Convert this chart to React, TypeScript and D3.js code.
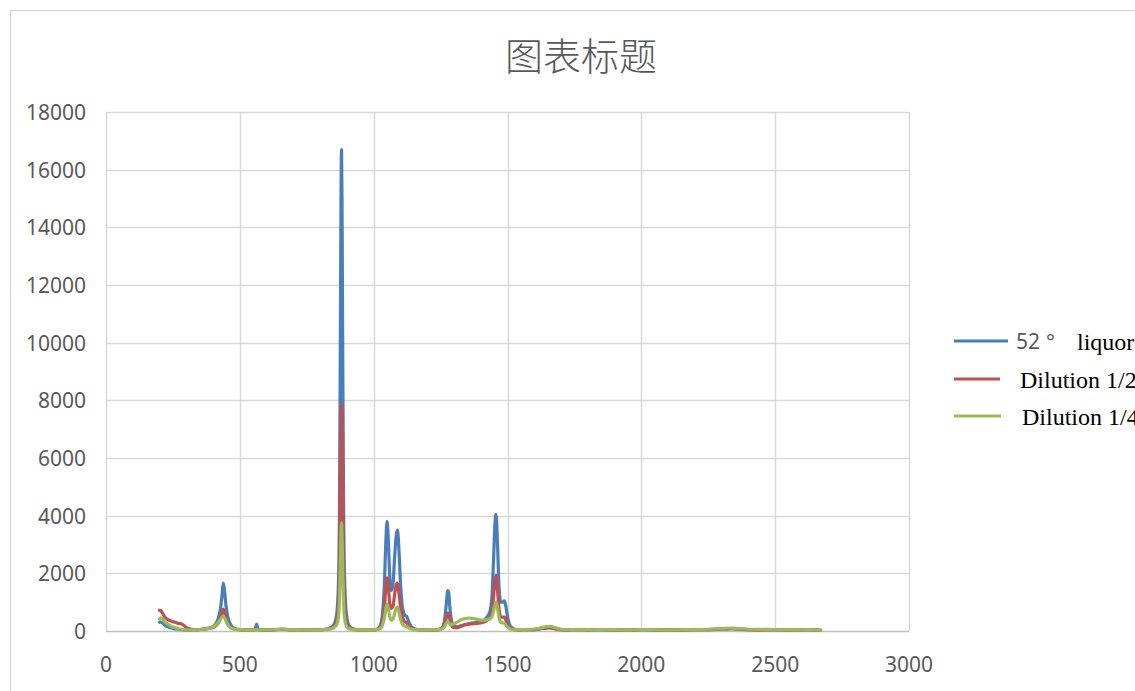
import React from "react";
import * as d3 from "d3";

// Raman shift (cm⁻¹) sample positions shared by all three spectra
const shifts = [
  200, 205, 210, 215, 220, 230, 240, 250, 260, 270, 280, 290, 300, 310, 320, 340, 360, 380, 400, 410,
  420, 428, 434, 438, 442, 448, 456, 466, 480, 500, 520, 540, 555, 560, 563, 566, 572, 600, 630, 660,
  690, 720, 750, 780, 810, 830, 845, 855, 862, 868, 872, 875, 878, 880, 882, 885, 888, 892, 898, 905,
  915, 930, 950, 980, 1000, 1015, 1025, 1033, 1040, 1045, 1050, 1055, 1060, 1066, 1072, 1078, 1084, 1089, 1094, 1100,
  1108, 1116, 1124, 1130, 1140, 1155, 1175, 1200, 1225, 1245, 1258, 1266, 1272, 1277, 1280, 1284, 1290, 1298, 1310, 1325,
  1340, 1355, 1370, 1385, 1400, 1415, 1425, 1435, 1442, 1448, 1453, 1457, 1462, 1468, 1475, 1482, 1488, 1493, 1500, 1510,
  1525, 1545, 1570, 1600, 1625, 1645, 1660, 1680, 1700, 1730, 1760, 1800, 1850, 1900, 1950, 2000, 2050, 2100, 2150, 2200,
  2250, 2290, 2320, 2340, 2360, 2400, 2450, 2500, 2550, 2600, 2640, 2670,
];

const liquor52 = [
  300, 310, 290, 250, 200, 150, 110, 90, 70, 60, 50, 40, 30, 30, 35, 40, 60, 90, 150, 250,
  450, 800, 1300, 1660, 1450, 900, 450, 220, 90, 50, 40, 35, 40, 150, 240, 120, 40, 30, 45, 60,
  40, 45, 35, 40, 50, 80, 150, 300, 600, 1500, 4000, 9000, 15000, 16700, 14500, 8500, 4000, 1600, 600, 250,
  110, 60, 40, 35, 40, 70, 200, 600, 1600, 3000, 3800, 3100, 1900, 1400, 1600, 2500, 3300, 3500, 2900, 1700,
  800, 550, 500, 350, 150, 70, 45, 40, 40, 60, 150, 450, 1000, 1400, 1350, 900, 400, 200, 150, 180,
  220, 250, 280, 300, 320, 400, 500, 700, 1200, 2500, 3700, 4050, 3200, 1600, 1000, 1000, 1050, 900, 500, 180,
  70, 40, 45, 50, 80, 100, 110, 70, 45, 40, 50, 40, 45, 35, 40, 45, 40, 35, 40, 45,
  50, 60, 70, 80, 65, 50, 45, 40, 40, 45, 40, 35,
];

const dilutionHalf = [
  720, 700, 640, 560, 480, 400, 360, 320, 300, 260, 250, 200, 120, 80, 60, 50, 60, 80, 120, 180,
  280, 450, 650, 760, 690, 450, 230, 120, 60, 45, 40, 40, 35, 45, 50, 45, 40, 40, 45, 60,
  45, 40, 40, 45, 50, 70, 110, 200, 350, 800, 2000, 4300, 7100, 7850, 6800, 4000, 1900, 800, 300, 140,
  80, 50, 40, 35, 40, 60, 120, 320, 800, 1450, 1840, 1500, 950, 780, 850, 1250, 1580, 1660, 1350, 850,
  450, 320, 280, 200, 100, 60, 40, 40, 40, 50, 100, 250, 480, 620, 600, 420, 220, 120, 110, 160,
  210, 240, 250, 260, 280, 320, 380, 450, 650, 1200, 1750, 1930, 1500, 800, 480, 480, 480, 400, 240, 100,
  50, 40, 45, 50, 90, 110, 120, 80, 50, 40, 45, 40, 50, 40, 35, 45, 40, 40, 35, 45,
  50, 65, 75, 85, 70, 50, 40, 45, 40, 40, 45, 35,
];

const dilutionQuarter = [
  420, 460, 430, 370, 320, 240, 180, 140, 110, 80, 60, 50, 40, 35, 40, 45, 60, 90, 140, 200,
  300, 420, 490, 520, 480, 350, 200, 110, 60, 45, 40, 40, 40, 40, 45, 40, 40, 35, 50, 65,
  45, 40, 40, 40, 50, 65, 90, 140, 220, 450, 1000, 2100, 3400, 3750, 3200, 1900, 900, 400, 170, 90,
  60, 45, 40, 35, 40, 55, 90, 200, 450, 750, 930, 780, 500, 380, 400, 600, 790, 830, 680, 420,
  230, 170, 150, 110, 70, 45, 40, 40, 45, 55, 90, 170, 280, 320, 300, 250, 220, 250, 300, 380,
  430, 450, 440, 410, 380, 380, 400, 430, 500, 700, 920, 1000, 820, 480, 300, 280, 270, 220, 140, 70,
  45, 45, 55, 70, 110, 150, 160, 110, 60, 45, 50, 45, 50, 45, 40, 45, 45, 40, 45, 50,
  60, 80, 95, 100, 85, 60, 55, 50, 50, 50, 45, 40,
];

const xTicks = [0, 500, 1000, 1500, 2000, 2500, 3000];
const yTicks = [0, 2000, 4000, 6000, 8000, 10000, 12000, 14000, 16000, 18000];

const seriesNames = ["liquor", "Dilution 1/2", "Dilution 1/4"];
const seriesColors = ["#4a7ebb", "#c0504d", "#9bbb59"];

const W = 1135;
const H = 691;
const plot = { left: 106, right: 909, top: 112, bottom: 631 };

export default function App() {
  const x = d3.scaleLinear().domain([0, 3000]).range([plot.left, plot.right]);
  const y = d3.scaleLinear().domain([0, 18000]).range([plot.bottom, plot.top]);
  const line = d3
    .line<number>()
    .x((_, i) => x(shifts[i]))
    .y((v) => y(v))
    .curve(d3.curveMonotoneX);

  const series = [liquor52, dilutionHalf, dilutionQuarter];
  const tickFont = "'Noto Sans', 'Open Sans', sans-serif";
  const serif = "'Liberation Serif', 'DejaVu Serif', serif";

  return (
    <svg
      width={W}
      height={H}
      style={{ position: "absolute", left: 0, top: 0, background: "#fff" }}
    >
      <rect x={0} y={0} width={W} height={H} fill="#fff" />
      <rect x={10.5} y={10.5} width={1300} height={900} fill="#fff" stroke="#d9d9d9" strokeWidth={1.5} />

      <text
        x={581}
        y={70}
        textAnchor="middle"
        fontSize={38}
        fill="#595959"
        fontFamily="'Noto Sans CJK SC', sans-serif"
        fontWeight={300}
      >
        图表标题
      </text>

      {/* gridlines */}
      {yTicks.map((t) => (
        <line
          key={"gy" + t}
          x1={plot.left}
          x2={plot.right}
          y1={Math.round(y(t)) + 0.5}
          y2={Math.round(y(t)) + 0.5}
          stroke={t === 0 ? "#bfbfbf" : "#d9d9d9"}
          strokeWidth={1.5}
        />
      ))}
      {xTicks.map((t) => (
        <line
          key={"gx" + t}
          x1={Math.round(x(t)) + 0.5}
          x2={Math.round(x(t)) + 0.5}
          y1={plot.top}
          y2={plot.bottom}
          stroke="#d9d9d9"
          strokeWidth={1.5}
        />
      ))}

      {/* tick labels */}
      {yTicks.map((t) => (
        <text
          key={"ly" + t}
          x={86}
          y={y(t) + 8}
          textAnchor="end"
          fontSize={21}
          fill="#595959"
          fontFamily={tickFont}
        >
          {t}
        </text>
      ))}
      {xTicks.map((t) => (
        <text
          key={"lx" + t}
          x={x(t)}
          y={672}
          textAnchor="middle"
          fontSize={21}
          fill="#595959"
          fontFamily={tickFont}
        >
          {t}
        </text>
      ))}

      {/* spectra */}
      {series.map((s, i) => (
        <path
          key={"s" + i}
          d={line(s) || ""}
          fill="none"
          stroke={seriesColors[i]}
          strokeWidth={3.2}
          strokeLinejoin="round"
          strokeLinecap="round"
        />
      ))}

      {/* legend */}
      <line x1={954} x2={1008} y1={341} y2={341} stroke={seriesColors[0]} strokeWidth={3} />
      <line x1={954} x2={1000} y1={379} y2={379} stroke={seriesColors[1]} strokeWidth={3} />
      <line x1={954} x2={1001} y1={416} y2={416} stroke={seriesColors[2]} strokeWidth={3} />
      <text x={1016} y={349} fontSize={21} fill="#595959" fontFamily={tickFont}>
        52
      </text>
      <text x={1046} y={349} fontSize={21} fill="#595959" fontFamily={tickFont}>
        °
      </text>
      <text x={1077} y={350} fontSize={24} fill="#000" fontFamily={serif}>
        {seriesNames[0]}
      </text>
      <text x={1020} y={388} fontSize={24} fill="#000" fontFamily={serif}>
        {seriesNames[1]}
      </text>
      <text x={1022} y={425} fontSize={24} fill="#000" fontFamily={serif}>
        {seriesNames[2]}
      </text>
    </svg>
  );
}
